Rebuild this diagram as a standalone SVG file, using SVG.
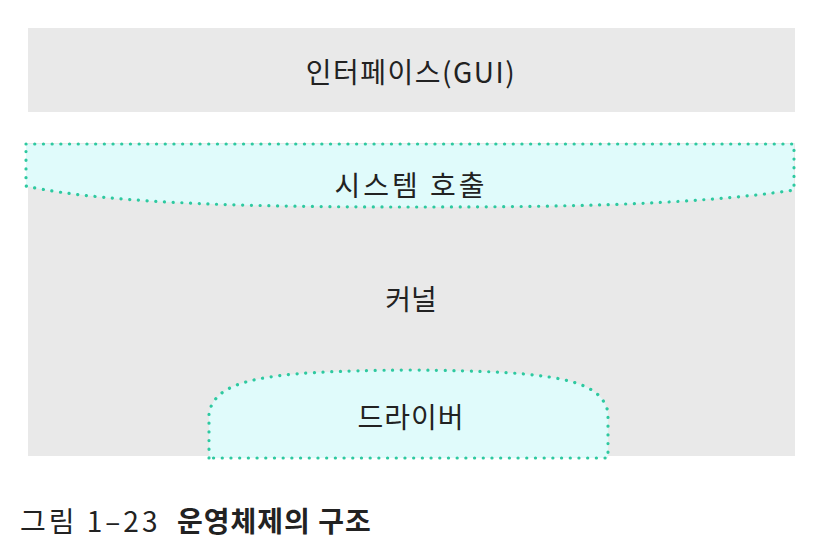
<svg xmlns="http://www.w3.org/2000/svg" width="822" height="546" viewBox="0 0 822 546">
<style>
.band{fill:#e9e9e9}
.call{fill:#e0fbfb;stroke:#2ec9a0;stroke-width:3.2;stroke-linecap:round;stroke-dasharray:0.1 8.6}
.lbl{font-family:"Noto Sans CJK KR","Noto Sans",sans-serif;font-size:28px;fill:#222;text-anchor:middle}
.cap{font-family:"Noto Sans CJK KR","Noto Sans",sans-serif;font-size:28px;fill:#222}
</style>
<rect width="822" height="546" fill="#ffffff"/>
<g id="interface">
<rect class="band" x="28" y="28" width="767" height="84"/>
<text class="lbl" x="411" y="83" letter-spacing="1.5">인터페이스(GUI)</text>
</g>
<g id="kernel">
<rect class="band" x="28" y="143" width="767" height="313"/>
<text class="lbl" x="411" y="310">커널</text>
</g>
<g id="syscall">
<path class="call" d="M26,144 L794,144 L794,190 C690,206 540,207 411,207 C280,207 110,205 26,186 Z"/>
<text class="lbl" x="411" y="196" letter-spacing="3">시스템 호출</text>
</g>
<g id="driver">
<path class="call" d="M209,458 L209,412 C218,380 260,371 410,370 C560,371 600,380 608,412 L608,458 Z"/>
<text class="lbl" x="411" y="428" letter-spacing="1">드라이버</text>
</g>
<g id="connectors"></g>
<text class="cap" x="20" y="532" letter-spacing="3">그림 1–23<tspan x="177" letter-spacing="1" font-weight="bold">운영체제의 구조</tspan></text>
</svg>
